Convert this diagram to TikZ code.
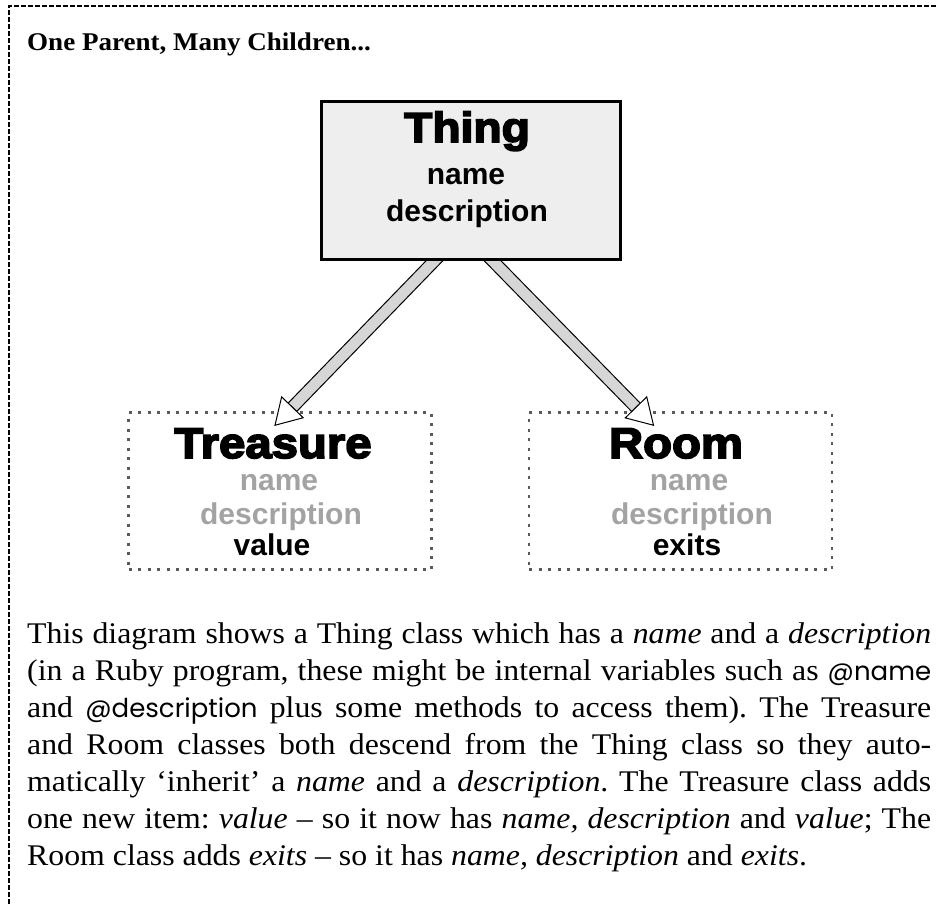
\documentclass[tikz,border=0pt]{standalone}
\usepackage{fontspec}
\setmainfont[FakeStretch=1.06]{Liberation Serif}
\newfontfamily\labelfont{Liberation Sans}
\newfontfamily\heavyfont[FakeBold=4,FakeStretch=1.1]{Liberation Sans Bold}
\newfontfamily\codefont{Poppins}
\usetikzlibrary{calc,backgrounds}

\definecolor{boxgray}{HTML}{EEEEEE}
\definecolor{inheritgray}{HTML}{A3A3A3}
\definecolor{shaftgray}{HTML}{D6D6D6}
\definecolor{dotgray}{HTML}{5A5A5A}

\tikzset{
  frame/.style={line width=1.6pt, dash pattern=on 5pt off 2pt},
  classbox/.style={draw, line width=3pt, fill=boxgray, minimum width=299pt, minimum height=158pt},
  childbox/.style={draw=dotgray, line width=2.5pt, dash pattern=on 3pt off 6.5pt, minimum width=303pt, minimum height=157pt},
  classname/.style={anchor=base, inner sep=0, font=\heavyfont\fontsize{#1}{#1}\selectfont},
  attr/.style={anchor=base, inner sep=0, font=\labelfont\bfseries\fontsize{30}{30}\selectfont},
  inherited/.style={attr, text=inheritgray},
  shaft/.style={draw, line width=1pt, fill=shaftgray},
  head/.style={draw, line width=1pt, fill=white, line join=miter}
}

% fat hollow arrow from #1 to #2
\newcommand\inheritarrow[2]{%
  \path ($(#2)!25pt!(#1)$) coordinate (ah);
  \filldraw[shaft] ($(#1)!6pt!90:(#2)$) -- ($(ah)!6pt!-90:(#1)$) -- ($(ah)!6pt!90:(#1)$) -- ($(#1)!6pt!-90:(#2)$) -- cycle;
  \filldraw[head] ($(ah)!15pt!-90:(#1)$) -- (#2) -- ($(ah)!15pt!90:(#1)$) -- cycle;
}

\begin{document}
\begin{tikzpicture}[x=1pt, y=-1pt]
\useasboundingbox (0,0) rectangle (938,904);
\draw[frame] (9,904) -- (9,6) -- (938,6);
\node (title) at (27,51) [anchor=base west, inner sep=0, font=\bfseries\fontsize{25.5}{32}\selectfont] {One Parent, Many Children...};

\node (thing) at (471,180.5) [classbox] {};
\node (thingname) at (467,142) [classname=42] {Thing};
\node (thingattr1) at (466,185) [attr] {name};
\node (thingattr2) at (467,222) [attr] {description};

\begin{scope}[on background layer]
\node (treasure) at (280,491) [childbox] {};
\node (room) at (680.5,491) [childbox] {};
\coordinate (leftfoot) at ($(thing.south)+(-29,-8)$);
\coordinate (rightfoot) at ($(thing.south)+(14,-8)$);
\coordinate (treasuretip) at ($(treasure.north)+(-5,14)$);
\coordinate (roomtip) at ($(room.north)+(-27,14)$);
\inheritarrow{leftfoot}{treasuretip}
\inheritarrow{rightfoot}{roomtip}
\end{scope}

\node (treasurename) at (273,458) [classname=43] {Treasure};
\node (treasureattr1) at (279,490) [inherited] {name};
\node (treasureattr2) at (281,524) [inherited] {description};
\node (treasureattr3) at (272,555) [attr] {value};

\node (roomname) at (676,458) [classname=43] {Room};
\node (roomattr1) at (689,490) [inherited] {name};
\node (roomattr2) at (692,524) [inherited] {description};
\node (roomattr3) at (687,555) [attr] {exits};

\node (body) at (27,643) [anchor=base west, inner sep=0] {\parbox[t]{904pt}{\fontsize{30}{37}\selectfont
\frenchspacing\tolerance=10000 \hyphenpenalty=10000 \emergencystretch=20pt
This diagram shows a Thing class which has a \emph{name} and a \emph{description}\linebreak
(in a Ruby program, these might be internal variables such as {\codefont\fontsize{26}{37}\selectfont @name}\linebreak
and {\codefont\fontsize{26}{37}\selectfont @description} plus some methods to access them). The Treasure\linebreak
and Room classes both descend from the Thing class so they auto-\linebreak
matically ‘inherit’ a \emph{name} and a \emph{description}. The Treasure class adds\linebreak
one new item: \emph{value} – so it now has \emph{name, description} and \emph{value}; The\linebreak
Room class adds \emph{exits} – so it has \emph{name, description} and \emph{exits}.}};
\end{tikzpicture}
\end{document}
